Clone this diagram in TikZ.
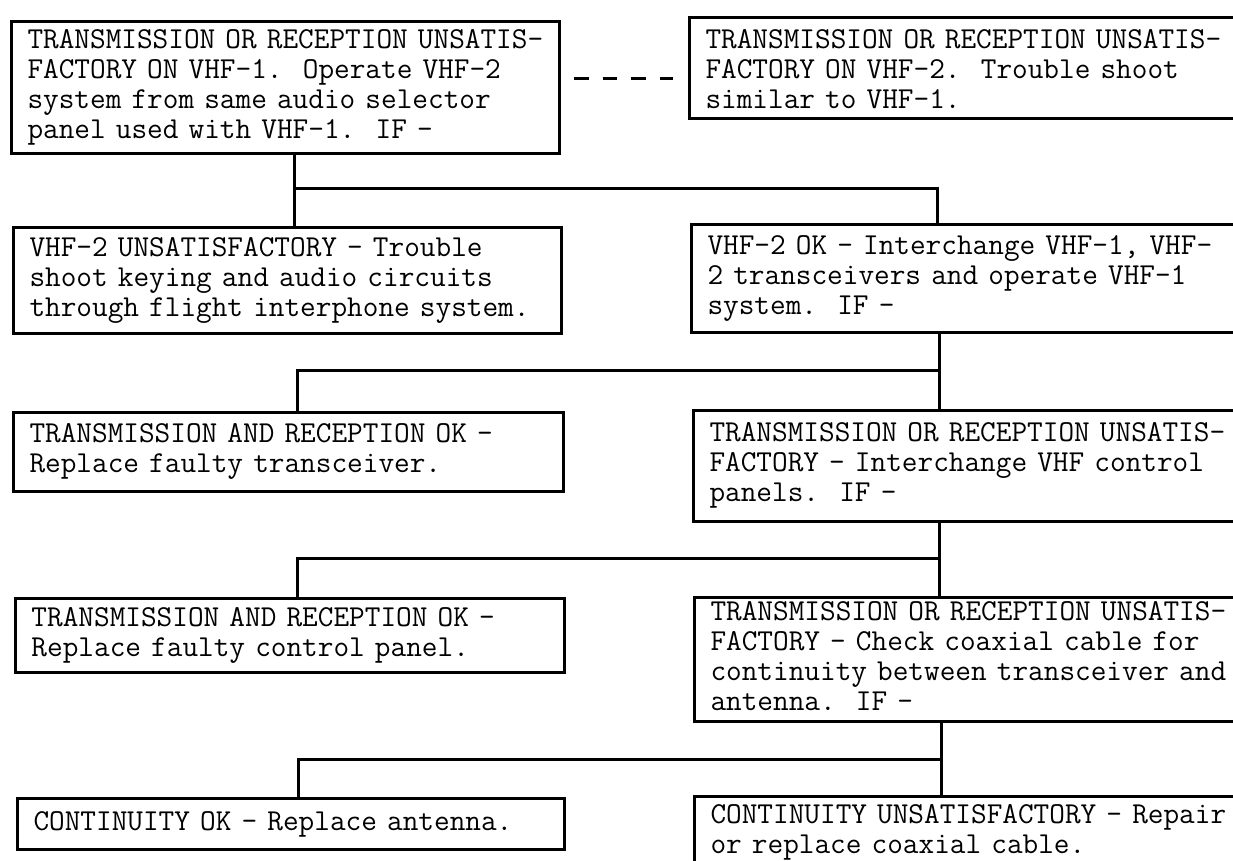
\documentclass[tikz,border=0pt]{standalone}
\usepackage{fontspec}
\newcommand\tblk[1]{\begin{tabular}{@{}l@{}}#1\end{tabular}}
\begin{document}
\frenchspacing
\begin{tikzpicture}[
  x=0.5pt, y=-0.5pt,
  box/.style={draw, line width=1.5pt, anchor=north west, align=left,
    inner xsep=8pt, inner ysep=0pt,
    font=\ttfamily\fontsize{15.2}{15}\selectfont},
  link/.style={line width=1.5pt},
  dashlink/.style={line width=1.5pt, dash pattern=on 7.4pt off 6.9pt},
]
\useasboundingbox (0,0) rectangle (1233,861);
\clip (0,0) rectangle (1233,861);

\node[box, text width=258pt, minimum height=66pt] (b1) at (10,20)
  {\tblk{TRANSMISSION OR RECEPTION UNSATIS-\\FACTORY ON VHF-1.~~Operate VHF-2\\system from same audio selector\\panel used with VHF-1.~~IF -}};
\node[box, text width=265pt, minimum height=50.5pt] (b2) at (688,16)
  {\raisebox{-2.5pt}[\height][\depth]{\tblk{TRANSMISSION OR RECEPTION UNSATIS-\\FACTORY ON VHF-2.~~Trouble shoot\\similar to VHF-1.}}};
\node[box, text width=258pt, minimum height=53pt] (b3) at (12,226)
  {\tblk{VHF-2 UNSATISFACTORY - Trouble\\shoot keying and audio circuits\\through flight interphone system.}};
\node[box, text width=264pt, minimum height=54pt] (b4) at (690,223)
  {\tblk{VHF-2 OK - Interchange VHF-1, VHF-\\2 transceivers and operate VHF-1\\system.~~IF -}};
\node[box, text width=259pt, minimum height=39.5pt] (b5) at (12,411)
  {\tblk{TRANSMISSION AND RECEPTION OK -\\Replace faulty transceiver.}};
\node[box, text width=263pt, minimum height=55.5pt] (b6) at (692,409)
  {\tblk{TRANSMISSION OR RECEPTION UNSATIS-\\FACTORY - Interchange VHF control\\panels.~~IF -}};
\node[box, text width=258.5pt, minimum height=37pt] (b7) at (14,597)
  {\tblk{TRANSMISSION AND RECEPTION OK -\\Replace faulty control panel.}};
\node[box, text width=262.5pt, minimum height=62pt] (b8) at (693,596)
  {\tblk{TRANSMISSION OR RECEPTION UNSATIS-\\FACTORY - Check coaxial cable for\\continuity between transceiver and\\antenna.~~IF -}};
\node[box, text width=257.5pt, minimum height=25.5pt] (b9) at (16,797)
  {\tblk{CONTINUITY OK - Replace antenna.}};
\node[box, text width=262.5pt, minimum height=36pt] (b10) at (693,795)
  {\tblk{CONTINUITY UNSATISFACTORY - Repair\\or replace coaxial cable.}};

% dashed link between the two top boxes
\coordinate (dy) at (0,79);
\draw[dashlink, shorten <=6.5pt, shorten >=7.5pt] (b1.east |- dy) -- (b2.west |- dy);

% level 1
\coordinate (j1l) at (294,189);
\coordinate (j1r) at (937,189);
\draw[link] (b1.south -| j1l) -- (b3.north -| j1l);
\draw[link] (j1l) -- (j1r) -- (b4.north -| j1r);

% level 2
\coordinate (j2l) at (297,371);
\coordinate (j2r) at (939,371);
\draw[link] (b4.south -| j2r) -- (b6.north -| j2r);
\draw[link] (j2r) -- (j2l) -- (b5.north -| j2l);

% level 3
\coordinate (j3l) at (297,558);
\coordinate (j3r) at (939,558);
\draw[link] (b6.south -| j3r) -- (b8.north -| j3r);
\draw[link] (j3r) -- (j3l) -- (b7.north -| j3l);

% level 4
\coordinate (j4l) at (298,759);
\coordinate (j4r) at (941,759);
\draw[link] (b8.south -| j4r) -- (b10.north -| j4r);
\draw[link] (j4r) -- (j4l) -- (b9.north -| j4l);
\end{tikzpicture}
\end{document}
